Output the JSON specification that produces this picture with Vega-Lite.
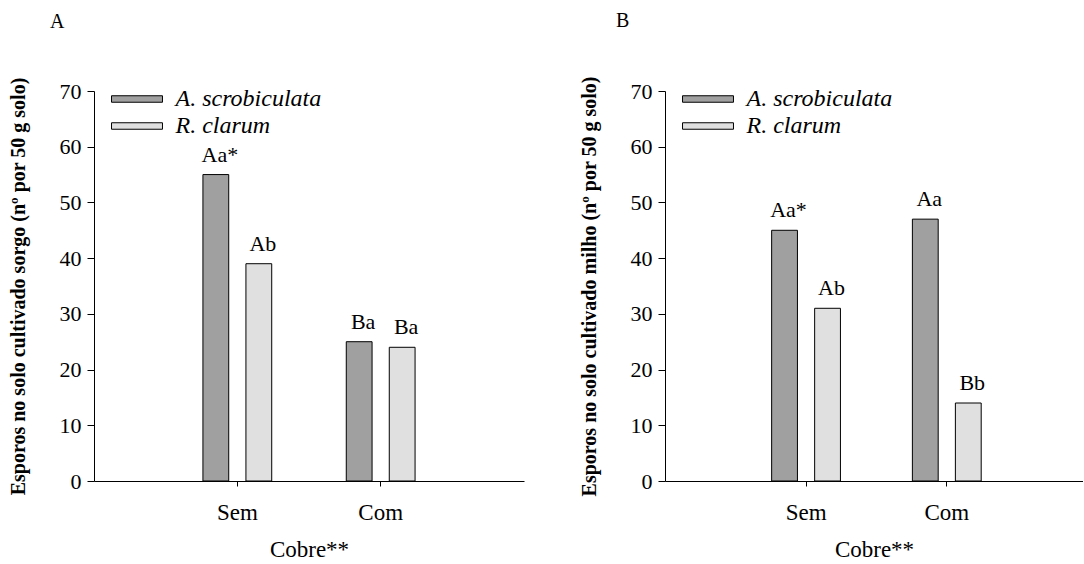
{
  "$schema": "https://vega.github.io/schema/vega-lite/v6.json",
  "background": "white",
  "padding": {"left": 8, "top": 10, "right": 0, "bottom": 0},
  "spacing": 55,
  "datasets": {
    "esporos": [
      {"painel": "A", "cobre": "Sem", "especie": "A. scrobiculata", "esporos": 55, "letras": "Aa*"},
      {"painel": "A", "cobre": "Sem", "especie": "R. clarum", "esporos": 39, "letras": "Ab"},
      {"painel": "A", "cobre": "Com", "especie": "A. scrobiculata", "esporos": 25, "letras": "Ba"},
      {"painel": "A", "cobre": "Com", "especie": "R. clarum", "esporos": 24, "letras": "Ba"},
      {"painel": "B", "cobre": "Sem", "especie": "A. scrobiculata", "esporos": 45, "letras": "Aa*"},
      {"painel": "B", "cobre": "Sem", "especie": "R. clarum", "esporos": 31, "letras": "Ab"},
      {"painel": "B", "cobre": "Com", "especie": "A. scrobiculata", "esporos": 47, "letras": "Aa"},
      {"painel": "B", "cobre": "Com", "especie": "R. clarum", "esporos": 14, "letras": "Bb"}
    ]
  },
  "config": {
    "font": "Liberation Serif",
    "view": {"stroke": null},
    "axis": {
      "grid": false,
      "domainColor": "black",
      "domainWidth": 1,
      "tickColor": "black",
      "tickWidth": 1,
      "labelColor": "black",
      "labelFont": "Liberation Serif",
      "titleColor": "black",
      "titleFont": "Liberation Serif"
    },
    "axisX": {"labelFontSize": 23, "labelAngle": 0, "tickSize": 5, "labelPadding": 15, "titleFontSize": 23, "titleFontWeight": "normal", "titlePadding": 14},
    "axisY": {"labelFontSize": 22, "tickSize": 7, "labelPadding": 6, "titleFontSize": 20, "titleFontWeight": "bold", "titlePadding": 31},
    "title": {"font": "Liberation Serif", "fontSize": 20, "fontWeight": "normal", "color": "black", "anchor": "start", "frame": "group"},
    "legend": {
      "orient": "none",
      "legendX": 28.5,
      "legendY": -6.5,
      "title": null,
      "labelFont": "Liberation Serif",
      "labelFontSize": 24,
      "labelFontStyle": "italic",
      "labelColor": "black",
      "symbolType": "M-1.82,-0.232H1.82V0.232H-1.82Z",
      "symbolSize": 784,
      "symbolStrokeColor": "black",
      "symbolStrokeWidth": 1,
      "symbolOpacity": 1,
      "labelOffset": 24,
      "rowPadding": 0
    }
  },
  "resolve": {"legend": {"color": "independent"}},
  "hconcat": [
    {
      "width": 430,
      "height": 390,
      "title": {"text": "A", "dx": -44, "offset": 45},
      "data": {"name": "esporos"},
      "transform": [{"filter": "datum.painel === 'A'"}],
      "encoding": {
        "x": {
          "field": "cobre", "type": "nominal", "sort": ["Sem", "Com"],
          "scale": {"paddingInner": 0.52, "paddingOuter": 0.76},
          "axis": {"title": "Cobre**"}
        },
        "xOffset": {
          "field": "especie", "type": "nominal", "sort": ["A. scrobiculata", "R. clarum"],
          "scale": {"paddingInner": 0.4, "paddingOuter": 0}
        },
        "y": {
          "field": "esporos", "type": "quantitative",
          "scale": {"domain": [0, 70], "nice": false},
          "axis": {"title": "Esporos no solo cultivado sorgo (nº por 50 g solo)", "values": [0, 10, 20, 30, 40, 50, 60, 70]}
        }
      },
      "layer": [
        {
          "mark": {"type": "bar", "stroke": "black", "strokeWidth": 1},
          "encoding": {
            "color": {
              "field": "especie", "type": "nominal", "sort": ["A. scrobiculata", "R. clarum"],
              "scale": {"range": ["#a0a0a0", "#e0e0e0"]}
            }
          }
        },
        {
          "mark": {"type": "text", "fontSize": 22, "color": "black", "baseline": "alphabetic", "dy": -13, "dx": 4},
          "encoding": {"text": {"field": "letras"}}
        }
      ]
    },
    {
      "width": 418,
      "height": 390,
      "title": {"text": "B", "dx": -49, "offset": 45},
      "data": {"name": "esporos"},
      "transform": [{"filter": "datum.painel === 'B'"}],
      "encoding": {
        "x": {
          "field": "cobre", "type": "nominal", "sort": ["Sem", "Com"],
          "scale": {"paddingInner": 0.51, "paddingOuter": 0.74, "align": 0.512},
          "axis": {"title": "Cobre**"}
        },
        "xOffset": {
          "field": "especie", "type": "nominal", "sort": ["A. scrobiculata", "R. clarum"],
          "scale": {"paddingInner": 0.4, "paddingOuter": 0}
        },
        "y": {
          "field": "esporos", "type": "quantitative",
          "scale": {"domain": [0, 70], "nice": false},
          "axis": {"title": "Esporos no solo cultivado milho (nº por 50 g solo)", "values": [0, 10, 20, 30, 40, 50, 60, 70]}
        }
      },
      "layer": [
        {
          "mark": {"type": "bar", "stroke": "black", "strokeWidth": 1},
          "encoding": {
            "color": {
              "field": "especie", "type": "nominal", "sort": ["A. scrobiculata", "R. clarum"],
              "scale": {"range": ["#a0a0a0", "#e0e0e0"]}
            }
          }
        },
        {
          "mark": {"type": "text", "fontSize": 22, "color": "black", "baseline": "alphabetic", "dy": -13, "dx": 4},
          "encoding": {"text": {"field": "letras"}}
        }
      ]
    }
  ]
}
